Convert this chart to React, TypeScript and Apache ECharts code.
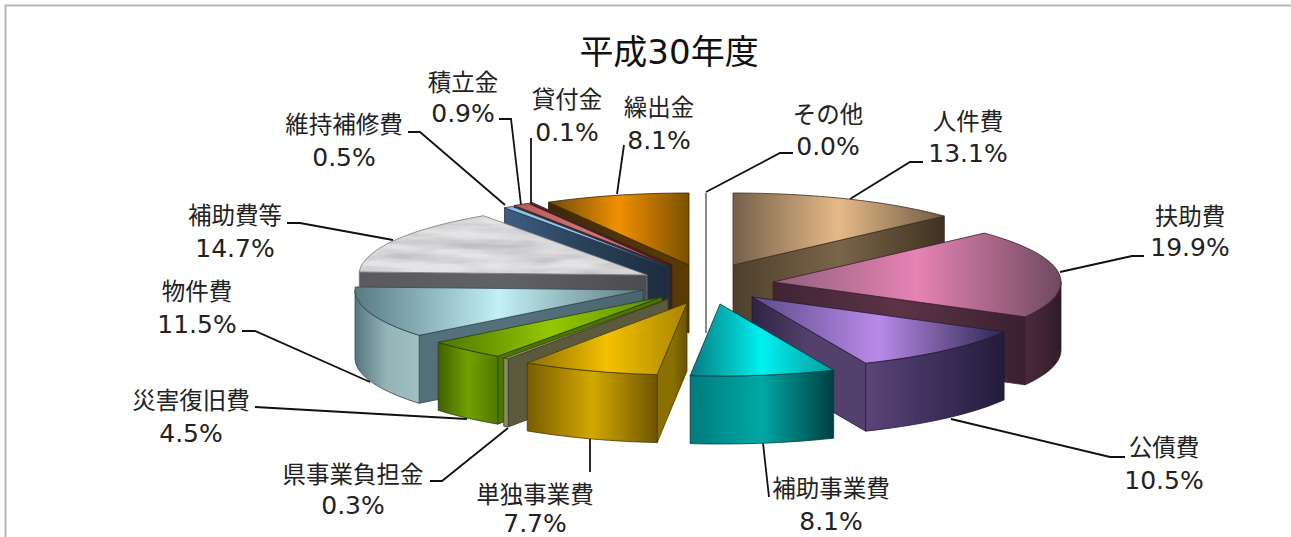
import React, { useEffect, useRef } from "react";
import * as echarts from "echarts";

// ---------- data ----------
const titleText = "平成30年度";
const categories = ["人件費", "扶助費", "公債費", "補助事業費", "単独事業費", "県事業負担金", "災害復旧費", "物件費", "補助費等", "維持補修費", "積立金", "貸付金", "繰出金", "その他"];
const shares = [13.1, 19.9, 10.5, 8.1, 7.7, 0.3, 4.5, 11.5, 14.7, 0.5, 0.9, 0.1, 8.1, 0.0];

// ---------- layout & style ----------
const W = 1291, H = 537;
const PIE = { cx: 700, cy: 280, rx: 288, ry: 72, depth: 68 };
// per-slice explosion offset from pie centre (same order as categories)
const EXPLODE = [[33, -15], [73, 2], [52, 17], [20, 24], [-13, 23], [-32, 19], [-38, 17], [-57, 10], [-53, -5], [-32, -13], [-30, -14], [-28, -15], [-11, -15], [6, -15]];
// back-to-front painting order
const PAINT = [13, 0, 12, 11, 10, 9, 8, 7, 6, 5, 4, 1, 2, 3];

type Pal = { top: string[]; rim: string[]; side: string[]; line: string };
const PAL: Pal[] = [
  { top: ["#75604a", "#e6ba88", "#6e5a42"], rim: ["#5a4a35", "#5a4a35", "#3a2e1e"], side: ["#4e3f2c", "#7a6549", "#3f3222"], line: "#3a2e1e" },
  { top: ["#8f5f7c", "#e683b4", "#6f4a60"], rim: ["#4a2a3a", "#402433", "#2f1c27"], side: ["#402434", "#5c3446", "#3a2030"], line: "#3a1e30" },
  { top: ["#5a4a88", "#b98ae8", "#2e2650"], rim: ["#5c4478", "#3e2f5c", "#221c3a"], side: ["#2e2444", "#54406c", "#54406c"], line: "#221a38" },
  { top: ["#067c80", "#00f0f0", "#079a9c"], rim: ["#007c7e", "#00a8a4", "#003f42"], side: ["#00585a", "#00585a", "#00585a"], line: "#003c40" },
  { top: ["#8c6c00", "#f4c000", "#a88600"], rim: ["#7a5c00", "#d2a800", "#6e5400"], side: ["#8a7000", "#8a7000", "#6a5400"], line: "#4a3a00" },
  { top: ["#8a8a60", "#a0a078", "#8a8a60"], rim: ["#8a8a68", "#8a8a68", "#8a8a68"], side: ["#5c5a3c", "#5c5a3c", "#5c5a3c"], line: "#3e3e20" },
  { top: ["#4c7400", "#94c800", "#5a8a00"], rim: ["#3f6000", "#72a000", "#507800"], side: ["#4c7400", "#4c7400", "#4c7400"], line: "#2a4000" },
  { top: ["#587a84", "#c2f0f4", "#5c7a82"], rim: ["#58767e", "#94b4b8", "#a0c0c4"], side: ["#54707a", "#54707a", "#4a6470"], line: "#33494f" },
  { top: ["#d8d8da", "#dcdcde", "#d8d8da"], rim: ["#5c5c60", "#5c5c60", "#5c5c60"], side: ["#5a5a5e", "#626266", "#4c4c50"], line: "#77777a" },
  { top: ["#8cc0e8", "#a0cff0", "#8cc0e8"], rim: ["#3a5878", "#3a5878", "#3a5878"], side: ["#3e5e80", "#2a4058", "#1c2c40"], line: "#23384e" },
  { top: ["#b85a5e", "#d07478", "#b85a5e"], rim: ["#3a4a5a", "#3a4a5a", "#3a4a5a"], side: ["#3a3030", "#2a2a30", "#2a2a30"], line: "#4a2020" },
  { top: ["#d08080", "#d08080", "#d08080"], rim: ["#333", "#333", "#333"], side: ["#302020", "#302020", "#302020"], line: "#402020" },
  { top: ["#6e4a08", "#f09000", "#7a5000"], rim: ["#4a3000", "#4a3000", "#4a3000"], side: ["#3e2800", "#4e3400", "#5a3c04"], line: "#3a2400" },
  { top: ["#fff", "#fff", "#fff"], rim: ["#fff", "#fff", "#fff"], side: ["#fff", "#fff", "#fff"], line: "#8a8a8a" },
];

const MARBLE_INDEX = 8;
const marbleSvg = `<svg xmlns='http://www.w3.org/2000/svg' width='320' height='120'><filter id='m' x='0' y='0' width='100%' height='100%'><feTurbulence type='fractalNoise' baseFrequency='0.012 0.09' numOctaves='3' seed='7' stitchTiles='stitch'/><feColorMatrix type='matrix' values='0 0 0 0 0.45 0 0 0 0 0.45 0 0 0 0 0.47 0.9 0.9 0 0 -0.72'/></filter><rect width='320' height='120' fill='#e4e4e6'/><g style='mix-blend-mode:multiply'><rect width='320' height='120' filter='url(#m)' opacity='1'/></g></svg>`;
const marbleUrl = "data:image/svg+xml;charset=utf-8," + encodeURIComponent(marbleSvg);

// label centres: [x, y of name, y of value]
const LABELS = [[968, 122, 153], [1190, 217, 247], [1164, 448, 480], [831, 489, 521], [535, 495, 523], [353, 475, 505], [191, 401, 433], [197, 292, 324], [235, 216, 248], [344, 125, 157], [463, 83, 113], [567, 100, 132], [659, 108, 140], [828, 115, 146]];
const LEADERS = [
  [[923, 162], [910, 162], [850, 199]],
  [[1144, 256], [1132, 256], [1060, 272]],
  [[1125, 457], [1110, 457], [951, 419]],
  [[769, 497], [763, 443]],
  [[590, 472], [590, 438]],
  [[430, 481], [442, 481], [508, 428]],
  [[255, 407], [467, 419]],
  [[242, 331], [255, 331], [370, 382]],
  [[287, 223], [300, 223], [393, 240]],
  [[408, 132], [420, 132], [505, 205]],
  [[499, 119], [511, 119], [521, 205]],
  [[531, 138], [531, 205]],
  [[624, 145], [617, 194]],
  [[793, 153], [780, 153], [706, 192]],
];

const FONT = '"DejaVu Sans","Noto Sans CJK JP",sans-serif';

const grad = (c: string[]) =>
  new echarts.graphic.LinearGradient(0, 0, 1, 0, [
    { offset: 0, color: c[0] },
    { offset: 0.5, color: c[1] },
    { offset: 1, color: c[2] },
  ]);

const total = shares.reduce((a, b) => a + b, 0);
const startAngles: number[] = [];
shares.reduce((acc, v, i) => {
  startAngles[i] = acc;
  return acc + (v / total) * 360;
}, 0);

const renderSlice = (_p: any, api: any) => {
  const i = api.value(0) as number;
  const s = api.value(1) as number;
  const e = api.value(2) as number;
  const pal = PAL[i];
  const ax = PIE.cx + EXPLODE[i][0];
  const ay = PIE.cy + EXPLODE[i][1];
  const pt = (deg: number, drop = 0): number[] => {
    const r = (deg * Math.PI) / 180;
    return [ax + PIE.rx * Math.sin(r), ay - PIE.ry * Math.cos(r) + drop];
  };
  const arc = (a: number, b: number, drop = 0) => {
    const n = Math.max(1, Math.ceil(Math.abs(b - a) / 2));
    const out: number[][] = [];
    for (let k = 0; k <= n; k++) out.push(pt(a + ((b - a) * k) / n, drop));
    return out;
  };
  const d = PIE.depth;
  const lw = i === 13 ? 2 : 0.8;
  const base = { stroke: pal.line, lineWidth: lw };
  const children: any[] = [];
  const radial = (deg: number) => ({
    type: "polygon",
    shape: { points: [[ax, ay], pt(deg), pt(deg, d), [ax, ay + d]] },
    style: { ...base, fill: grad(pal.side) },
  });
  const sinS = Math.sin((s * Math.PI) / 180);
  const sinE = Math.sin((e * Math.PI) / 180);
  if (e - s < 1e-6) {
    children.push(radial(e));
  } else {
    if (sinS < -1e-9) children.push(radial(s));
    if (sinE > 1e-9) children.push(radial(e));
    const a = Math.max(s, 90);
    const b = Math.min(e, 270);
    if (b > a) {
      children.push({
        type: "polygon",
        shape: { points: [...arc(a, b), ...arc(b, a, d)] },
        style: { ...base, fill: grad(pal.rim) },
      });
    }
    const fill = i === MARBLE_INDEX
      ? ({ image: marbleUrl, repeat: "repeat", imageWidth: 320, imageHeight: 120 } as any)
      : grad(pal.top);
    children.push({
      type: "polygon",
      shape: { points: [[ax, ay], ...arc(s, e)] },
      style: { ...base, fill },
    });
  }
  return { type: "group", children };
};

export default function App() {
  const ref = useRef<HTMLDivElement>(null);
  useEffect(() => {
    document.body.style.margin = "0";
    const chart = echarts.init(ref.current!, undefined, { renderer: "svg" });
    const labelGraphics: any[] = [];
    categories.forEach((name, i) => {
      const [x, y1, y2] = LABELS[i];
      labelGraphics.push({
        type: "polyline",
        shape: { points: LEADERS[i] },
        style: { stroke: "#111", lineWidth: 1.8, fill: "none" },
        silent: true,
      });
      labelGraphics.push({
        type: "text", x, y: y1,
        style: { text: name, font: `23.5px ${FONT}`, fill: "#222", textAlign: "center", textVerticalAlign: "middle" },
      });
      labelGraphics.push({
        type: "text", x, y: y2,
        style: { text: `${shares[i].toFixed(1)}%`, font: `25px ${FONT}`, fill: "#222", textAlign: "center", textVerticalAlign: "middle" },
      });
    });
    chart.setOption({
      animation: false,
      backgroundColor: "#fff",
      title: {
        text: titleText,
        left: 664,
        top: 47,
        textAlign: "center",
        textVerticalAlign: "middle",
        textStyle: { fontFamily: FONT, fontSize: 34, fontWeight: "normal", color: "#111" },
      },
      graphic: [
        { type: "polyline", shape: { points: [[5.5, H], [5.5, 5.5], [W, 5.5]] }, style: { stroke: "#b8b8b8", lineWidth: 2, fill: "none" }, silent: true },
        ...labelGraphics,
      ],
      series: [
        {
          type: "custom",
          coordinateSystem: "none",
          silent: true,
          clip: false,
          renderItem: renderSlice,
          data: PAINT.map((i) => [i, startAngles[i], startAngles[i] + (shares[i] / total) * 360]),
        },
      ],
    });
    return () => chart.dispose();
  }, []);
  return <div ref={ref} style={{ position: "absolute", left: 0, top: 0, width: W, height: H, overflow: "hidden" }} />;
}
